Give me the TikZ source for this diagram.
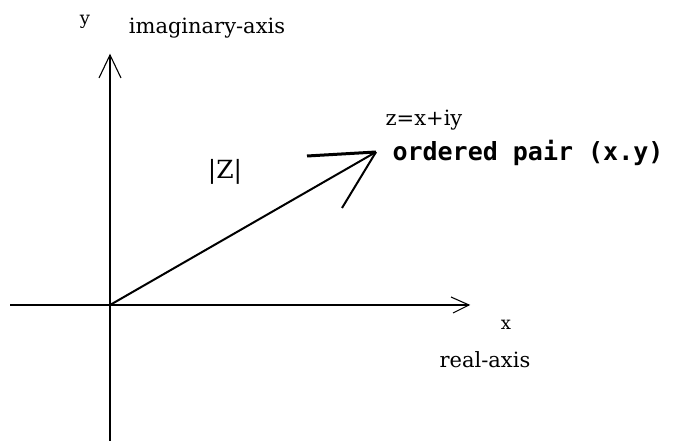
\documentclass[tikz,border=0pt]{standalone}
\usepackage{fontspec}
\setmainfont{DejaVu Serif}
\newfontfamily\pairfont{DejaVu Sans Mono}
\begin{document}
\begin{tikzpicture}[x=1pt,y=-1pt,
  axis/.style={line width=1.1pt,black},
  vec/.style={line width=2pt,black},
  lab/.style={inner sep=0pt,font=\fontsize{21}{21}\selectfont},
  small/.style={inner sep=0pt,font=\fontsize{18}{18}\selectfont},
  pairlab/.style={inner sep=0pt,font=\pairfont\bfseries\fontsize{25}{25}\selectfont}]
\useasboundingbox[fill=white] (0,0) rectangle (673,441);
% coordinates
\coordinate (O) at (110,305);
\coordinate (ytip) at (110,55);
\coordinate (ybot) at (110,441);
\coordinate (yl) at (99,78);
\coordinate (yr) at (121,78);
\coordinate (xleft) at (10,305);
\coordinate (xtip) at (469,305);
\coordinate (xu) at (451,297);
\coordinate (xd) at (453,313);
\coordinate (P) at (376,152);
\coordinate (hl) at (307,156);
\coordinate (hd) at (342,208);
% axes
\draw[axis] (ybot) -- (ytip);
\draw[axis] (yl) -- (ytip) -- (yr);
\draw[axis] (xleft) -- (xtip);
\draw[axis] (xu) -- (xtip) -- (xd);
% vector
\draw[vec] (O) -- (P);
\draw[line width=3pt] (hl) -- (P);
\draw[vec] (P) -- (hd);
% labels
\node[small] (ylab) at (85,22) {y};
\node[lab] (imag) at (207,28) {imaginary-axis};
\node[lab] (zlab) at (424,120) {z=x+iy};
\node[pairlab] (pair) at (528,153) {ordered pair (x.y)};
\node[inner sep=0pt,font=\fontsize{25}{25}\selectfont] (mod) at (225,172) {|Z|};
\node[small] (xlab) at (506,325) {x};
\node[lab] (real) at (485,360) {real-axis};
\end{tikzpicture}
\end{document}
